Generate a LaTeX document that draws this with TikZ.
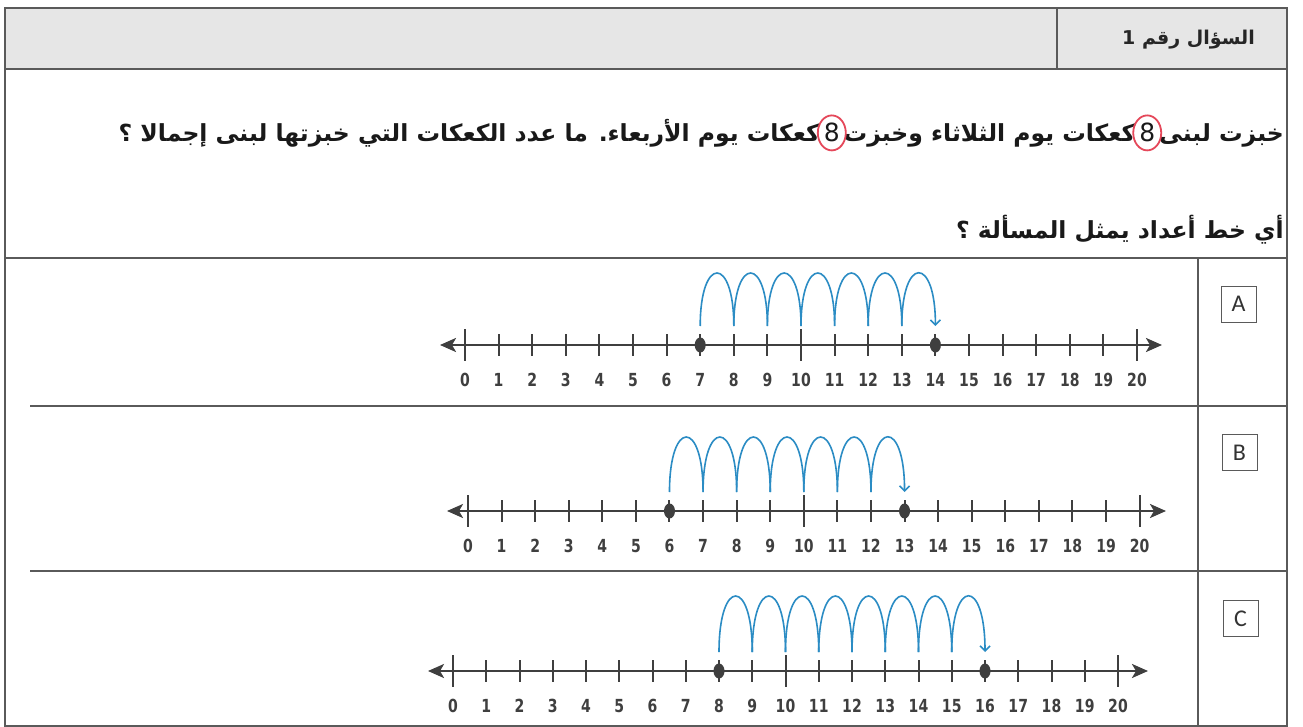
\documentclass[tikz,border=0pt]{standalone}
\usepackage{fontspec}
\setmainfont{DejaVu Sans}
\newfontfamily\arabicfont[Script=Arabic]{DejaVu Sans}
\newfontfamily\digitfont[FakeStretch=0.78]{DejaVu Sans}
\newfontfamily\letterfont{Carlito}
\TeXXeTstate=1
\usetikzlibrary{arrows.meta,shapes.geometric}
\definecolor{arcblue}{HTML}{2B8CC4}
\definecolor{axisgray}{HTML}{3F3F3F}
\definecolor{ringred}{HTML}{E5485A}
\definecolor{headgray}{HTML}{E6E6E6}
\definecolor{framegray}{HTML}{5A5A5A}
\tikzset{
  frameline/.style={draw=framegray, line width=1.1pt},
  jump/.style={draw=arcblue, line width=1.6pt},
  jumpend/.style={draw=arcblue, line width=1.6pt, -{Straight Barb[length=5pt,width=10pt]}},
  axisline/.style={draw=axisgray, line width=2.4pt, {Stealth[length=16pt,width=14pt,inset=4pt]}-{Stealth[length=16pt,width=14pt,inset=4pt]}},
  tickmark/.style={draw=axisgray, line width=2pt},
  dotnode/.style={ellipse, fill=axisgray, minimum width=11pt, minimum height=15pt, inner sep=0pt},
  numlab/.style={font=\digitfont\bfseries\fontsize{18}{18}\selectfont, text=axisgray, inner sep=0pt},
  letterbox/.style={draw=framegray, line width=1pt, minimum width=35pt, minimum height=36pt, inner sep=0pt, font=\letterfont\fontsize{24}{24}\selectfont, text=black!80},
  arabictext/.style={font=\arabicfont\bfseries\fontsize{23.5}{30}\selectfont, inner sep=1pt, text=black!90},
  headtext/.style={font=\arabicfont\bfseries\fontsize{19}{22}\selectfont, inner sep=0pt, text=black!85},
  eightnum/.style={font=\fontsize{25}{30}\selectfont, inner sep=2.5pt, text=black!90},
  redring/.style={ellipse, draw=ringred, line width=1.8pt, minimum width=28pt, minimum height=35pt, inner sep=0pt}
}
% #1 id, #2 axis y, #3 x of 0, #4 step, #5 start, #6 end, #7 left tip x, #8 right tip x, #9 arc top y
\newcommand\drawnumline[9]{%
  \coordinate (#1L) at (#7,#2);
  \coordinate (#1R) at (#8,#2);
  \draw[axisline] (#1L) -- (#1R);
  \foreach \k in {0,...,20} {
    \coordinate (#1t\k) at ({#3+\k*#4},#2);
    \coordinate (#1b\k) at ({#3+\k*#4},#2-19);
    \pgfmathsetmacro\len{(\k==0||\k==10||\k==20)?16:11}
    \draw[tickmark] ([yshift=\len pt]#1t\k) -- ([yshift=-\len pt]#1t\k);
    \node[numlab] (#1n\k) at ({#3+\k*#4},#2+35) {\k};
  }
  \node[dotnode] (#1s) at (#1t#5) {};
  \node[dotnode] (#1e) at (#1t#6) {};
  \pgfmathsetmacro\hh{(#2-19-#9)/0.75}
  \pgfmathtruncatemacro\lastA{#6-2}
  \pgfmathtruncatemacro\lastB{#6-1}
  \foreach \k in {#5,...,\lastA} {
    \pgfmathtruncatemacro\nxt{\k+1}
    \draw[jump] (#1b\k) .. controls +(0,-\hh) and +(0,-\hh) .. (#1b\nxt);
  }
  \draw[jumpend] (#1b\lastB) .. controls +(0,-\hh) and +(0,-\hh) .. (#1b#6);
}
\begin{document}
\begin{tikzpicture}[x=1pt,y=-1pt]
\useasboundingbox (0,0) rectangle (1303,727);
\fill[white] (0,0) rectangle (1303,727);
% header
\fill[headgray] (5,8) rectangle (1287,69);
\draw[frameline] (5,8) rectangle (1287,726);
\draw[frameline] (5,69) -- (1287,69);
\draw[frameline] (1057,8) -- (1057,69);
\draw[frameline] (5,258) -- (1287,258);
\draw[frameline] (30,406) -- (1287,406);
\draw[frameline] (30,571) -- (1287,571);
\draw[frameline] (1198,258) -- (1198,726);
\node[headtext, anchor=east] (head) at (1255,40) {\beginR السؤال رقم 1\endR};
% question line
\node[arabictext, anchor=base east] (qa) at (1285,142) {\beginR خبزت لبنى\endR};
\node[eightnum, anchor=base east] (e1) at (qa.base west) {8};
\node[arabictext, anchor=base east] (qb) at (e1.base west) {\beginR كعكات يوم الثلاثاء وخبزت\endR};
\node[eightnum, anchor=base east] (e2) at (qb.base west) {8};
\node[arabictext, anchor=base east] (qc) at (e2.base west) {\beginR كعكات يوم الأربعاء. ما عدد الكعكات التي خبزتها لبنى إجمالا ؟\endR};
\node[redring] (r1) at (e1.center) {};
\node[redring] (r2) at (e2.center) {};
\node[arabictext, anchor=base east] (q2) at (1285,239) {\beginR أي خط أعداد يمثل المسألة ؟\endR};
% number lines
\drawnumline{A}{345}{465}{33.6}{7}{14}{440}{1162}{273}
\drawnumline{B}{511}{468}{33.58}{6}{13}{447}{1166}{437}
\drawnumline{C}{671}{453}{33.25}{8}{16}{428}{1148}{596}
% letter boxes
\node[letterbox] (la) at (1238.5,304) {A};
\node[letterbox] (lb) at (1239.5,452.5) {B};
\node[letterbox] (lc) at (1240.5,618.5) {C};
\end{tikzpicture}
\end{document}
